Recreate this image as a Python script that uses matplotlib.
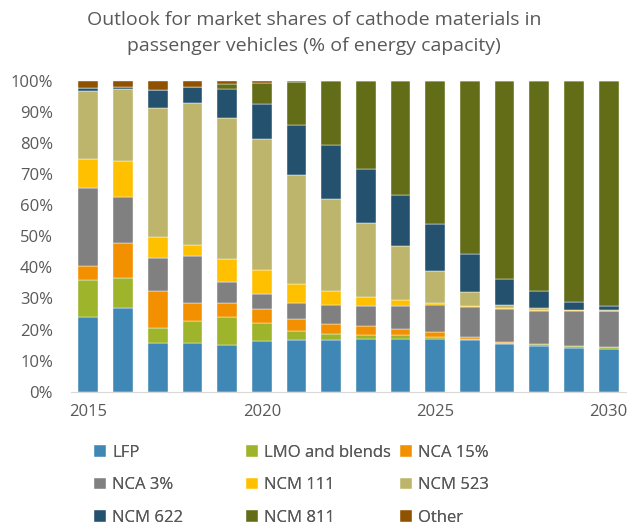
import numpy as np
import matplotlib
matplotlib.use("Agg")
import matplotlib.pyplot as plt

plt.rcParams['font.family'] = ['Open Sans', 'DejaVu Sans']

years = list(range(2015, 2031))
series = ['LFP', 'LMO and blends', 'NCA 15%', 'NCA 3%', 'NCM 111',
          'NCM 523', 'NCM 622', 'NCM 811', 'Other']
colors = ['#3F88B6', '#9DB42B', '#F39000', '#808080', '#FFC000',
          '#BDB56B', '#24526E', '#636D18', '#8F5200']

# shares in % of energy capacity, one list per cathode type (2015..2030)
lfp = [24.1, 27.1, 15.8, 15.8, 15.0, 16.4, 16.5, 16.5, 16.9, 16.9, 16.9, 16.6, 15.4, 14.7, 14.0, 13.7]
lmo = [11.8, 9.4, 4.6, 6.9, 9.1, 5.8, 2.9, 2.0, 1.2, 1.2, 0.8, 0.4, 0.4, 0.5, 0.6, 0.6]
nca15 = [4.5, 11.2, 12.1, 5.7, 4.3, 4.4, 4.0, 3.3, 2.9, 2.0, 1.4, 0.5, 0.3, 0.2, 0.1, 0.1]
nca3 = [25.1, 15.1, 10.6, 15.4, 6.8, 4.7, 5.1, 6.2, 6.7, 7.6, 8.7, 9.7, 10.5, 10.7, 11.4, 11.6]
ncm111 = [9.3, 11.4, 6.8, 3.3, 7.6, 7.9, 6.2, 4.3, 2.7, 1.9, 0.9, 0.4, 0.2, 0.2, 0.1, 0.1]
ncm523 = [22.1, 23.1, 41.3, 45.7, 45.4, 42.1, 35.0, 29.6, 23.9, 17.2, 10.3, 4.6, 1.0, 0.6, 0.2, 0.1]
ncm622 = [0.7, 0.7, 5.9, 5.2, 9.1, 11.3, 16.1, 17.5, 17.3, 16.5, 14.9, 12.0, 8.4, 5.4, 2.4, 1.4]
ncm811 = [0.0, 0.0, 0.0, 0.0, 1.7, 6.9, 14.0, 20.5, 28.3, 36.6, 46.0, 55.7, 63.7, 67.6, 71.1, 72.3]
other = [2.4, 2.0, 2.9, 2.0, 1.0, 0.5, 0.2, 0.1, 0.1, 0.1, 0.1, 0.1, 0.1, 0.1, 0.1, 0.1]

data = [lfp, lmo, nca15, nca3, ncm111, ncm523, ncm622, ncm811, other]
text_color = '#595959'

fig = plt.figure(figsize=(6.28, 5.26), dpi=100)
ax = fig.add_axes([71 / 628, 1 - 391.7 / 526, 555 / 628, 310.7 / 526])

x = np.arange(len(years))
bottom = np.zeros(len(years))
handles = []
for name, vals, col in zip(series, data, colors):
    vals = np.array(vals)
    b = ax.bar(x, vals, width=0.57, bottom=bottom, color=col,
               edgecolor='white', linewidth=0.3, label=name)
    handles.append(b)
    bottom += vals

ax.set_xlim(-0.5, len(years) - 0.5)
ax.set_ylim(0, 100)
ax.set_yticks(np.arange(0, 101, 10))
ax.set_yticklabels([f'{v}%' for v in range(0, 101, 10)])
tick_idx = [i for i, y in enumerate(years) if y % 5 == 0]
ax.set_xticks(tick_idx)
ax.set_xticklabels([str(years[i]) for i in tick_idx])
ax.tick_params(axis='y', length=0, pad=13, labelsize=12, labelcolor=text_color)
ax.tick_params(axis='x', length=0, pad=9, labelsize=12, labelcolor=text_color)
for s in ['top', 'right', 'left']:
    ax.spines[s].set_visible(False)
ax.spines['bottom'].set_color('#D9D9D9')

fig.text(0.5, 1 - 33 / 526,
         'Outlook for market shares of cathode materials in\npassenger vehicles (% of energy capacity)',
         ha='center', va='center', fontsize=14, color=text_color, linespacing=1.55)

# Excel-like legend: three equal-width columns, filled row by row
col_x = [94, 246, 400]
for c in range(3):
    idx = [c, c + 3, c + 6]
    leg = fig.legend([handles[i] for i in idx], [series[i] for i in idx],
                     loc='upper left', bbox_to_anchor=(col_x[c] / 628, 1 - 445 / 526),
                     frameon=False, fontsize=12, labelcolor=text_color,
                     handlelength=0.7, handleheight=0.7, handletextpad=0.4,
                     labelspacing=0.98, borderpad=0, borderaxespad=0)
    fig.add_artist(leg)

fig.savefig('out.png', dpi=100)
